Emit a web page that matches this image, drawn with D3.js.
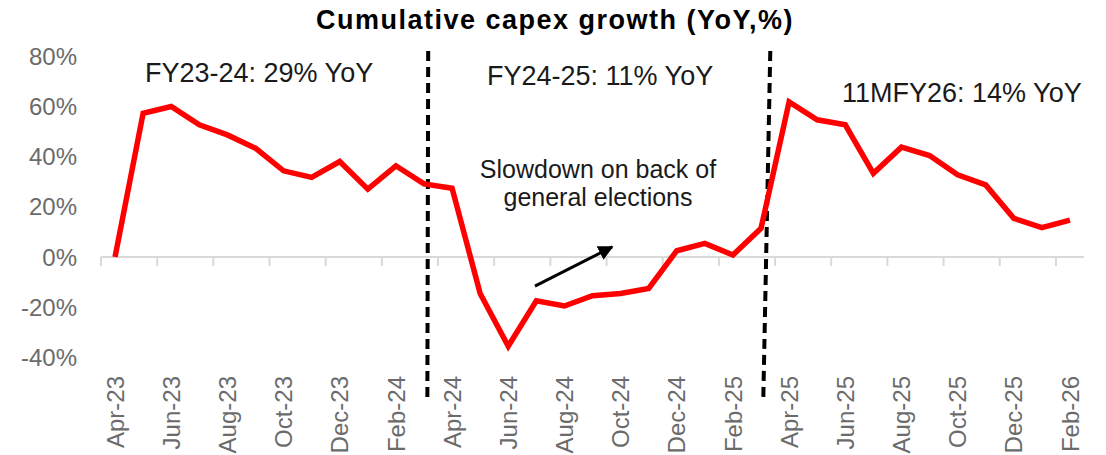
<!DOCTYPE html>
<html lang="en">
<head>
    <meta charset="UTF-8">
    <script src="https://d3js.org/d3.v7.min.js"></script>
    <title>Cumulative capex growth</title>
    <style>
        body { margin: 0; background: #fff; }
        svg text { font-family: "Liberation Sans", Arial, sans-serif; }
        .tick-label { fill: #6b6b6b; font-size: 24px; }
        .note { fill: #1a1a1a; font-size: 27px; }
        .title { fill: #000; font-size: 27px; font-weight: bold; letter-spacing: 1.5px; }
    </style>
</head>
<body>
<div id="chart"></div>
<script>
    // months on the x axis
    var months = ["Apr-23", "May-23", "Jun-23", "Jul-23", "Aug-23", "Sep-23", "Oct-23", "Nov-23",
        "Dec-23", "Jan-24", "Feb-24", "Mar-24", "Apr-24", "May-24", "Jun-24", "Jul-24", "Aug-24",
        "Sep-24", "Oct-24", "Nov-24", "Dec-24", "Jan-25", "Feb-25", "Mar-25", "Apr-25", "May-25",
        "Jun-25", "Jul-25", "Aug-25", "Sep-25", "Oct-25", "Nov-25", "Dec-25", "Jan-26", "Feb-26"];

    // cumulative capex growth, YoY %
    var growth = [0, 57.2, 59.9, 52.6, 48.6, 43.3, 34.3, 31.7, 38.0, 27.0, 36.3,
        29.1, 27.4, -14.5, -35.5, -17.4, -19.5, -15.4, -14.5, -12.5, 2.5, 5.4, 0.8, 11.4,
        61.7, 54.6, 52.6, 33.3, 43.7, 40.4, 32.7, 28.7, 15.4, 11.7, 14.7];

    var yTicks = [-40, -20, 0, 20, 40, 60, 80];

    // fiscal-year notes
    var notes = ["FY23-24: 29% YoY", "FY24-25: 11% YoY", "11MFY26: 14% YoY"];
    var callout = ["Slowdown on back of", "general elections"];

    var width = 1106, height = 455;

    var svg = d3.select("#chart").append("svg")
        .attr("width", width)
        .attr("height", height);

    var x = d3.scaleBand().domain(months).range([101, 1084]).padding(0);
    var y = d3.scaleLinear().domain([-40, 80]).range([357.5, 56]);

    // position by (possibly fractional) month index
    function xi(i) { return x(months[0]) + x.step() * (i + 0.5); }

    // title
    svg.append("text")
        .attr("class", "title")
        .attr("x", 555)
        .attr("y", 29)
        .attr("text-anchor", "middle")
        .text("Cumulative capex growth (YoY,%)");

    // y tick labels
    svg.selectAll(".ylab")
        .data(yTicks)
        .enter()
        .append("text")
        .attr("class", "tick-label")
        .attr("x", 77)
        .attr("y", function (d) { return y(d); })
        .attr("dy", "0.36em")
        .attr("text-anchor", "end")
        .text(function (d) { return d + "%"; });

    // zero axis line with ticks every two months
    svg.append("line")
        .attr("x1", x.range()[0]).attr("x2", x.range()[1])
        .attr("y1", y(0)).attr("y2", y(0))
        .attr("stroke", "#d9d9d9").attr("stroke-width", 2);

    svg.selectAll(".xtick")
        .data(months.filter(function (d, i) { return i % 2 === 0; }))
        .enter()
        .append("line")
        .attr("x1", function (d) { return x(d); })
        .attr("x2", function (d) { return x(d); })
        .attr("y1", y(0)).attr("y2", y(0) + 9)
        .attr("stroke", "#d9d9d9").attr("stroke-width", 2);

    // x labels, rotated
    svg.selectAll(".xlab")
        .data(months.filter(function (d, i) { return i % 2 === 0; }))
        .enter()
        .append("text")
        .attr("class", "tick-label")
        .attr("transform", function (d) {
            return "translate(" + (x(d) + x.bandwidth() / 2) + ",376) rotate(-90)";
        })
        .attr("dy", "0.36em")
        .attr("text-anchor", "end")
        .text(function (d) { return d; });

    // fiscal year dividers
    var dividers = [[11.15, 11.12], [23.33, 23.08]];
    svg.selectAll(".divider")
        .data(dividers)
        .enter()
        .append("line")
        .attr("x1", function (d) { return xi(d[0]); })
        .attr("x2", function (d) { return xi(d[1]); })
        .attr("y1", y(82))
        .attr("y2", y(-57))
        .attr("stroke", "#000")
        .attr("stroke-width", 4)
        .attr("stroke-dasharray", "10,6");

    // the series
    var line = d3.line()
        .x(function (d, i) { return x(months[i]) + x.bandwidth() / 2; })
        .y(function (d) { return y(d); });

    svg.append("path")
        .datum(growth)
        .attr("fill", "none")
        .attr("stroke", "#ff0000")
        .attr("stroke-width", 5.5)
        .attr("stroke-linejoin", "miter")
        .attr("d", line);

    // arrow
    svg.append("defs").append("marker")
        .attr("id", "head")
        .attr("viewBox", "0 0 10 10")
        .attr("refX", 9).attr("refY", 5)
        .attr("markerWidth", 5).attr("markerHeight", 5)
        .attr("orient", "auto")
        .append("path")
        .attr("d", "M0,0 L10,5 L0,10 z")
        .attr("fill", "#000");

    svg.append("line")
        .attr("x1", xi(14.95)).attr("y1", y(-11.6))
        .attr("x2", xi(17.7)).attr("y2", y(4.0))
        .attr("stroke", "#000")
        .attr("stroke-width", 3)
        .attr("marker-end", "url(#head)");

    // notes
    var notePos = [[145, 82], [487, 85], [842, 102]];
    svg.selectAll(".note")
        .data(notes)
        .enter()
        .append("text")
        .attr("class", "note")
        .attr("x", function (d, i) { return notePos[i][0]; })
        .attr("y", function (d, i) { return notePos[i][1]; })
        .text(function (d) { return d; });

    svg.selectAll(".callout")
        .data(callout)
        .enter()
        .append("text")
        .attr("class", "note")
        .attr("x", 598)
        .attr("y", function (d, i) { return 178 + i * 28; })
        .attr("text-anchor", "middle")
        .style("font-size", "25px")
        .text(function (d) { return d; });
</script>
</body>
</html>
